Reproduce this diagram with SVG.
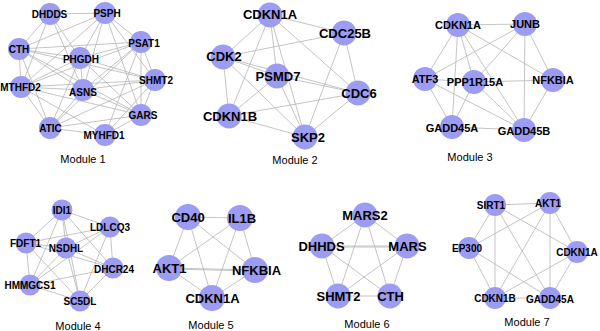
<svg xmlns="http://www.w3.org/2000/svg" width="600" height="331" viewBox="0 0 600 331">
<style>
.e{stroke:#b5b5b5;stroke-width:0.8;fill:none}
circle{fill:#9c9cf2}
text{font-family:"Liberation Sans",Arial,sans-serif;text-anchor:middle;fill:#000}
.s{font-size:10px;font-weight:bold}
.m{font-size:11px;font-weight:bold}
.b{font-size:13px;font-weight:bold}
.t{font-size:11px}
</style>
<rect width="600" height="331" fill="#fff"/>
<g id="connectors">
<path class="e" d="M50 14L105 13M50 14L19 49M50 14L21 87M50 14L80 58M50 14L83 90M105 13L141 42M105 13L19 49M105 13L80 58M105 13L83 90M105 13L21 87M105 13L155 80M105 13L141 115M141 42L19 49M141 42L80 58M141 42L155 80M141 42L141 115M141 42L83 90M141 42L21 87M141 42L50 128M141 42L105 135M19 49L80 58M19 49L155 80M19 49L21 87M19 49L50 128M19 49L83 90M19 49L141 115M80 58L155 80M80 58L141 115M80 58L21 87M80 58L50 128M80 58L83 90M155 80L21 87M155 80L83 90M155 80L141 115M155 80L50 128M155 80L105 135M21 87L83 90M21 87L141 115M21 87L50 128M21 87L105 135M83 90L141 115M83 90L50 128M141 115L50 128M141 115L105 135M50 128L105 135"/>
<path class="e" d="M270 15L344 33M270 15L223 57M270 15L277 76M270 15L229 116M270 15L305 137M270 15L358 93M344 33L223 57M344 33L358 93M344 33L305 137M223 57L277 76M223 57L358 93M223 57L229 116M223 57L305 137M277 76L229 116M277 76L305 137M277 76L358 93M229 116L358 93M229 116L305 137M358 93L305 137"/>
<path class="e" d="M458 25L525 24M458 25L425 79M458 25L474 82M458 25L452 127M458 25L524 130M458 25L553 80M525 24L425 79M525 24L474 82M525 24L553 80M525 24L524 130M425 79L452 127M425 79L524 130M425 79L474 82M474 82L553 80M474 82L452 127M474 82L524 130M452 127L524 130M553 80L524 130"/>
<path class="e" d="M62 210L110 227M62 210L26 243M62 210L66 248M62 210L113 268M62 210L30 285M62 210L80 301M110 227L26 243M110 227L66 248M110 227L113 268M110 227L30 285M110 227L80 301M26 243L66 248M26 243L30 285M26 243L80 301M26 243L113 268M66 248L113 268M66 248L30 285M66 248L80 301M113 268L30 285M113 268L80 301M30 285L80 301"/>
<path class="e" d="M188 217L240 218M188 217L169 268M188 217L255 270M188 217L212 298M240 218L169 268M240 218L255 270M240 218L212 298M169 268L255 270M169 269L255 271M169 268L212 298M255 270L212 298"/>
<path class="e" d="M365 215L322 246M365 215L407 246M365 215L338 296M365 215L390 296M322 246L407 246M322 247L407 247M322 246L338 296M322 246L390 296M407 246L338 296M407 246L390 296M338 296L390 296"/>
<path class="e" d="M495 205L550 203M495 205L469 248M495 205L495 298M495 205L550 298M495 205L577 252M550 203L469 248M550 203L495 298M550 203L550 298M550 203L577 252M469 248L495 298M469 248L550 298M577 252L495 298M577 252L550 298M495 298L550 298"/>
</g>
<g id="module1">
<g id="m1-DHDDS"><circle cx="50" cy="14" r="11"/><text class="s" x="49.5" y="17.6">DHDDS</text></g>
<g id="m1-PSPH"><circle cx="105" cy="13" r="11"/><text class="s" x="107" y="16.6">PSPH</text></g>
<g id="m1-PSAT1"><circle cx="141" cy="42" r="11"/><text class="s" x="144" y="46.6">PSAT1</text></g>
<g id="m1-CTH"><circle cx="19" cy="49" r="11"/><text class="s" x="19" y="52.6">CTH</text></g>
<g id="m1-PHGDH"><circle cx="80" cy="58" r="11"/><text class="s" x="81" y="62.6">PHGDH</text></g>
<g id="m1-SHMT2"><circle cx="155" cy="80" r="11"/><text class="s" x="156" y="83.6">SHMT2</text></g>
<g id="m1-MTHFD2"><circle cx="21" cy="87" r="11"/><text class="s" x="20.5" y="90.6">MTHFD2</text></g>
<g id="m1-ASNS"><circle cx="83" cy="90" r="11"/><text class="s" x="83" y="95.6">ASNS</text></g>
<g id="m1-GARS"><circle cx="141" cy="115" r="11"/><text class="s" x="143" y="118.6">GARS</text></g>
<g id="m1-ATIC"><circle cx="50" cy="128" r="11"/><text class="s" x="50.5" y="131.6">ATIC</text></g>
<g id="m1-MYHFD1"><circle cx="105" cy="135" r="11"/><text class="s" x="104" y="138.6">MYHFD1</text></g>
<text class="t" x="83" y="163">Module 1</text>
</g>
<g id="module2">
<g id="m2-CDKN1A"><circle cx="270" cy="15" r="12.5"/><text class="b" x="270" y="18.7">CDKN1A</text></g>
<g id="m2-CDC25B"><circle cx="344" cy="33" r="12.5"/><text class="b" x="345" y="37.7">CDC25B</text></g>
<g id="m2-CDK2"><circle cx="223" cy="57" r="12.5"/><text class="b" x="224" y="60.7">CDK2</text></g>
<g id="m2-PSMD7"><circle cx="277" cy="76" r="12.5"/><text class="b" x="278" y="80.7">PSMD7</text></g>
<g id="m2-CDC6"><circle cx="358" cy="93" r="12.5"/><text class="b" x="359" y="97.7">CDC6</text></g>
<g id="m2-CDKN1B"><circle cx="229" cy="116" r="12.5"/><text class="b" x="230" y="120.7">CDKN1B</text></g>
<g id="m2-SKP2"><circle cx="305" cy="137" r="12.5"/><text class="b" x="308" y="141.7">SKP2</text></g>
<text class="t" x="295" y="164">Module 2</text>
</g>
<g id="module3">
<g id="m3-CDKN1A"><circle cx="458" cy="25" r="12"/><text class="m" x="458" y="29">CDKN1A</text></g>
<g id="m3-JUNB"><circle cx="525" cy="24" r="12"/><text class="m" x="525" y="28">JUNB</text></g>
<g id="m3-ATF3"><circle cx="425" cy="79" r="12"/><text class="m" x="425" y="83">ATF3</text></g>
<g id="m3-PPP1R15A"><circle cx="474" cy="82" r="12"/><text class="m" x="475" y="86">PPP1R15A</text></g>
<g id="m3-NFKBIA"><circle cx="553" cy="80" r="12"/><text class="m" x="553" y="84">NFKBIA</text></g>
<g id="m3-GADD45A"><circle cx="452" cy="127" r="12"/><text class="m" x="452" y="132">GADD45A</text></g>
<g id="m3-GADD45B"><circle cx="524" cy="130" r="12"/><text class="m" x="524" y="135">GADD45B</text></g>
<text class="t" x="470" y="161">Module 3</text>
</g>
<g id="module4">
<g id="m4-IDI1"><circle cx="62" cy="210" r="10.5"/><text class="s" x="62" y="213.6">IDI1</text></g>
<g id="m4-LDLCQ3"><circle cx="110" cy="227" r="10.5"/><text class="s" x="110" y="230.6">LDLCQ3</text></g>
<g id="m4-FDFT1"><circle cx="26" cy="243" r="10.5"/><text class="s" x="25.5" y="246.6">FDFT1</text></g>
<g id="m4-NSDHL"><circle cx="66" cy="248" r="10.5"/><text class="s" x="66" y="251.6">NSDHL</text></g>
<g id="m4-DHCR24"><circle cx="113" cy="268" r="10.5"/><text class="s" x="114" y="272.6">DHCR24</text></g>
<g id="m4-HMMGCS1"><circle cx="30" cy="285" r="10.5"/><text class="s" x="30" y="288.6">HMMGCS1</text></g>
<g id="m4-SC5DL"><circle cx="80" cy="301" r="10.5"/><text class="s" x="80" y="304.6">SC5DL</text></g>
<text class="t" x="78" y="330">Module 4</text>
</g>
<g id="module5">
<g id="m5-CD40"><circle cx="188" cy="217" r="13"/><text class="b" x="188" y="221.7">CD40</text></g>
<g id="m5-IL1B"><circle cx="240" cy="218" r="13"/><text class="b" x="242" y="222.7">IL1B</text></g>
<g id="m5-AKT1"><circle cx="169" cy="268" r="13"/><text class="b" x="169.5" y="272.7">AKT1</text></g>
<g id="m5-NFKBIA"><circle cx="255" cy="270" r="13"/><text class="b" x="256.5" y="274.7">NFKBIA</text></g>
<g id="m5-CDKN1A"><circle cx="212" cy="298" r="13"/><text class="b" x="212.5" y="302.7">CDKN1A</text></g>
<text class="t" x="211" y="329">Module 5</text>
</g>
<g id="module6">
<g id="m6-MARS2"><circle cx="365" cy="215" r="12.5"/><text class="b" x="365" y="219.7">MARS2</text></g>
<g id="m6-DHHDS"><circle cx="322" cy="246" r="12.5"/><text class="b" x="321.5" y="250.7">DHHDS</text></g>
<g id="m6-MARS"><circle cx="407" cy="246" r="12.5"/><text class="b" x="407.5" y="250.7">MARS</text></g>
<g id="m6-SHMT2"><circle cx="338" cy="296" r="12.5"/><text class="b" x="338.5" y="300.7">SHMT2</text></g>
<g id="m6-CTH"><circle cx="390" cy="296" r="12.5"/><text class="b" x="390.5" y="300.7">CTH</text></g>
<text class="t" x="367" y="328">Module 6</text>
</g>
<g id="module7">
<g id="m7-SIRT1"><circle cx="495" cy="205" r="11"/><text class="s" x="491" y="208.6">SIRT1</text></g>
<g id="m7-AKT1"><circle cx="550" cy="203" r="11"/><text class="s" x="548" y="206.6">AKT1</text></g>
<g id="m7-EP300"><circle cx="469" cy="248" r="11"/><text class="s" x="467" y="251.6">EP300</text></g>
<g id="m7-CDKN1A"><circle cx="577" cy="252" r="11"/><text class="s" x="577" y="255.6">CDKN1A</text></g>
<g id="m7-CDKN1B"><circle cx="495" cy="298" r="11"/><text class="s" x="495" y="301.6">CDKN1B</text></g>
<g id="m7-GADD45A"><circle cx="550" cy="298" r="11"/><text class="s" x="550" y="302.6">GADD45A</text></g>
<text class="t" x="527" y="326">Module 7</text>
</g>
</svg>
